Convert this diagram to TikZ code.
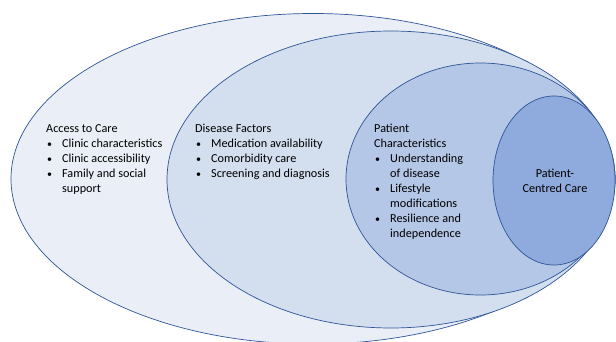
\documentclass[tikz,border=0pt]{standalone}
\usepackage{fontspec}
\setmainfont{Carlito}
\usepackage{xcolor}
\usetikzlibrary{positioning}

\definecolor{ringline}{HTML}{2F5597}
\definecolor{access}{HTML}{E9EEF7}
\definecolor{disease}{HTML}{D3DEEF}
\definecolor{patient}{HTML}{B4C7E7}
\definecolor{centred}{HTML}{8FAADC}

\newcommand{\bul}{\makebox[16pt][l]{\hspace{1pt}{\fontsize{10}{15}\selectfont\textbullet}}}
\newcommand{\ind}{\hspace{16pt}}

\tikzset{
  layer/.style={draw=ringline, line width=0.7pt},
  block/.style={anchor=base west, inner sep=0pt, font=\fontsize{12.2}{15}\selectfont}
}

\begin{document}
\begin{tikzpicture}[x=1pt,y=-1pt]
\useasboundingbox (0,0) rectangle (616,342);
\clip (0,0) rectangle (616,342);

% nested rings, outermost first
\filldraw[layer, fill=access] (313,178.8) ellipse [x radius=302, y radius=165.3];
\filldraw[layer, fill=disease] (391,179.5) ellipse [x radius=224, y radius=148.5];
\filldraw[layer, fill=patient] (480.5,179) ellipse [x radius=134.5, y radius=116];
\filldraw[layer, fill=centred] (554,180.5) ellipse [x radius=61, y radius=84.5];

\node[block](Acc) at (46,133) {\begin{tabular}[t]{@{}l@{}}
Access to Care\\
\bul Clinic characteristics\\
\bul Clinic accessibility\\
\bul Family and social\\
\ind support
\end{tabular}};

\node[block](Dis) at (195,133) {\begin{tabular}[t]{@{}l@{}}
Disease Factors\\
\bul Medication availability\\
\bul Comorbidity care\\
\bul Screening and diagnosis
\end{tabular}};

\node[block](Pat) at (374,133) {\begin{tabular}[t]{@{}l@{}}
Patient\\
Characteristics\\
\bul Understanding\\
\ind of disease\\
\bul Lifestyle\\
\ind modifications\\
\bul Resilience and\\
\ind independence
\end{tabular}};

\node[inner sep=0pt, align=center, font=\fontsize{12.2}{15}\selectfont](Cen) at (555,180.5) {Patient-\\Centred Care};
\end{tikzpicture}
\end{document}
